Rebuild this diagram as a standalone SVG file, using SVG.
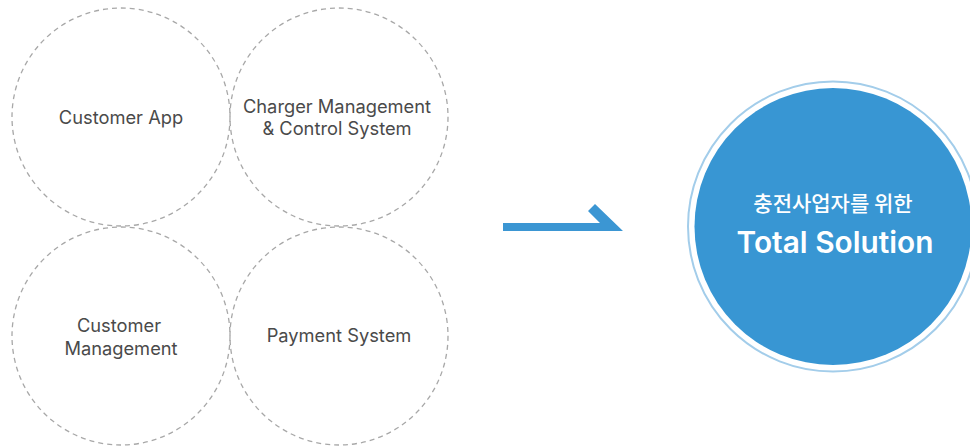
<svg xmlns="http://www.w3.org/2000/svg" width="970" height="446" viewBox="0 0 970 446">
<style>
.dash{fill:none;stroke:#a8a8a8;stroke-width:1.3;stroke-dasharray:5 4}
.lbl{font-family:Inter,"Liberation Sans",sans-serif;font-size:18.3px;fill:#4a4a4a;text-anchor:middle}
.kr{font-family:"Noto Sans CJK KR",sans-serif;font-size:21px;font-weight:500;fill:#fff;text-anchor:middle}
.big{font-family:Inter,"Liberation Sans",sans-serif;font-size:29.8px;font-weight:600;fill:#fff;text-anchor:middle}
</style>
<rect width="970" height="446" fill="#fff"/>
<g id="customer-app">
<circle class="dash" cx="121" cy="117" r="109"/>
<text class="lbl" x="121" y="124">Customer App</text>
</g>
<g id="charger-management">
<circle class="dash" cx="339" cy="117" r="109"/>
<text class="lbl" x="337" y="113">Charger Management</text>
<text class="lbl" x="337" y="135">&amp; Control System</text>
</g>
<g id="customer-management">
<circle class="dash" cx="121" cy="336" r="109"/>
<text class="lbl" x="119" y="332">Customer</text>
<text class="lbl" x="121" y="355">Management</text>
</g>
<g id="payment-system">
<circle class="dash" cx="339" cy="336" r="109"/>
<text class="lbl" x="339" y="342">Payment System</text>
</g>
<g id="connectors">
<polygon points="503,223 600,223 588,211 595,204 623,231 503,231" fill="#3b96d3"/>
</g>
<g id="total-solution">
<circle cx="833" cy="226.5" r="145" fill="none" stroke="#a3cdea" stroke-width="2"/>
<circle cx="833" cy="226.5" r="138.5" fill="#3896d3"/>
<text class="kr" x="833" y="211">충전사업자를 위한</text>
<text class="big" x="835" y="253">Total Solution</text>
</g>
</svg>
